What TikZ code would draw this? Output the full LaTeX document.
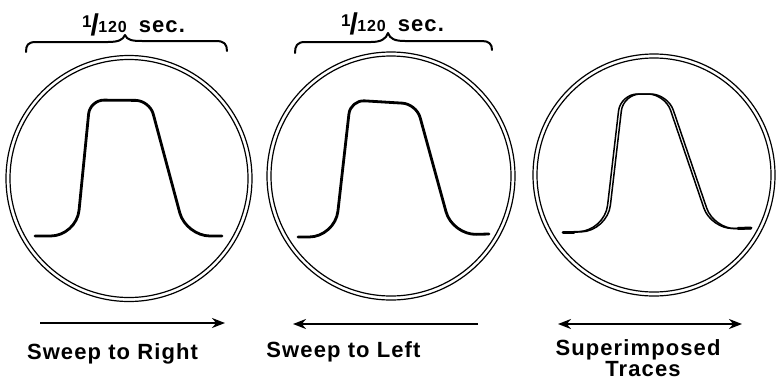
\documentclass[tikz,border=0pt]{standalone}
\usepackage{fontspec}
\setmainfont{Liberation Sans}
\newfontfamily\lab{Liberation Sans}[LetterSpace=5]
\usetikzlibrary{arrows.meta}
\newcommand\periodlabel{{\lab\bfseries
  {\fontsize{17}{17}\selectfont\raisebox{5pt}{1}}\kern-1pt%
  {\fontsize{30}{30}\selectfont\raisebox{-3pt}{/}}\kern-0.5pt%
  {\fontsize{16}{16}\selectfont 120}\hspace{12pt}%
  {\fontsize{22}{22}\selectfont sec.}}}
\begin{document}
\begin{tikzpicture}[x=1pt,y=-1pt,
  ring/.style={line width=1.2pt},
  trace/.style={line width=2.8pt, line cap=round, line join=round},
  thintrace/.style={line width=1.5pt, line cap=round, line join=round},
  brace/.style={line width=2pt, line cap=round, line join=round},
  sweep/.style={line width=2.4pt},
  tip/.style={-{Stealth[length=13pt,width=10pt]}},
  lbl/.style={font=\lab\bfseries\fontsize{22}{23}\selectfont, inner sep=0pt, anchor=base}
]
\fill[white] (0,0) rectangle (776,381);
\useasboundingbox (0,0) rectangle (776,381);

% screens (double rings)
\draw[ring] (129,178.5) circle[radius=123pt] (129,178.5) circle[radius=119pt];
\draw[ring] (391,176) circle[radius=124pt] (391,176) circle[radius=120pt];
\draw[ring] (654,175) circle[radius=121pt] (654,175) circle[radius=117pt];

% trace 1
\draw[trace] (35,236) [rounded corners=26pt] -- (76.5,236) [rounded corners=14pt] -- (90,100)
  -- (149.6,100.5) [rounded corners=24pt] -- (186,236) [sharp corners] -- (222,236);
% trace 2
\draw[trace] (298,237) [rounded corners=26pt] -- (335,237) [rounded corners=14pt] -- (350.5,100)
  -- (416.4,104) [rounded corners=24pt] -- (452.4,235) [sharp corners] -- (489,234);
% trace 3 (two superimposed sweeps)
\draw[thintrace] (563,232) [rounded corners=26pt] -- (604.6,231) [rounded corners=17pt] -- (620.5,94)
  -- (665,94) [rounded corners=22pt] -- (711,229) [sharp corners] -- (751,228);
\draw[thintrace] (563,232.5) [rounded corners=26pt] -- (607.4,231) [rounded corners=17pt] -- (623.3,94)
  -- (667.8,94) [rounded corners=22pt] -- (713.8,229) [sharp corners] -- (751,228.5);
\draw[line width=3pt, line cap=round] (563,232) -- (574,232);
\draw[line width=3pt, line cap=round] (738,228.5) -- (751,228);

% braces
\draw[brace] (26,52) .. controls (26,45) and (28,42) .. (36,42) -- (108,42)
  .. controls (118,42) and (123,40) .. (125,35)
  .. controls (127,40) and (132,41) .. (142,41) -- (216,41)
  .. controls (224,41) and (227,44) .. (227,51);
\draw[brace] (295,53) .. controls (295,46) and (297,42) .. (305,42) -- (371,42)
  .. controls (381,42) and (386,39) .. (388,33)
  .. controls (390,39) and (395,41) .. (405,41) -- (482,41)
  .. controls (489,41) and (492,44) .. (492,50);

% period labels
\node[anchor=base west, inner sep=0pt] (p1) at (82,32) {\periodlabel};
\node[anchor=base west, inner sep=0pt] (p2) at (341,31) {\periodlabel};

% sweep arrows
\coordinate (a1s) at (40,323);  \coordinate (a1e) at (225,323);
\coordinate (a2s) at (478,324); \coordinate (a2e) at (293,324);
\coordinate (a3s) at (558,324); \coordinate (a3e) at (742,324);
\draw[sweep,tip] (a1s) -- (a1e);
\draw[sweep,tip] (a2s) -- (a2e);
\draw[sweep,{Stealth[length=13pt,width=10pt]}-{Stealth[length=13pt,width=10pt]}] (a3s) -- (a3e);

% captions
\node[lbl] (c1) at (112.5,359) {Sweep to Right};
\node[lbl] (c2) at (343.5,357) {Sweep to Left};
\node[lbl] (c3) at (638,355) {Superimposed};
\node[lbl] (c4) at (643,376) {Traces};
\end{tikzpicture}
\end{document}
